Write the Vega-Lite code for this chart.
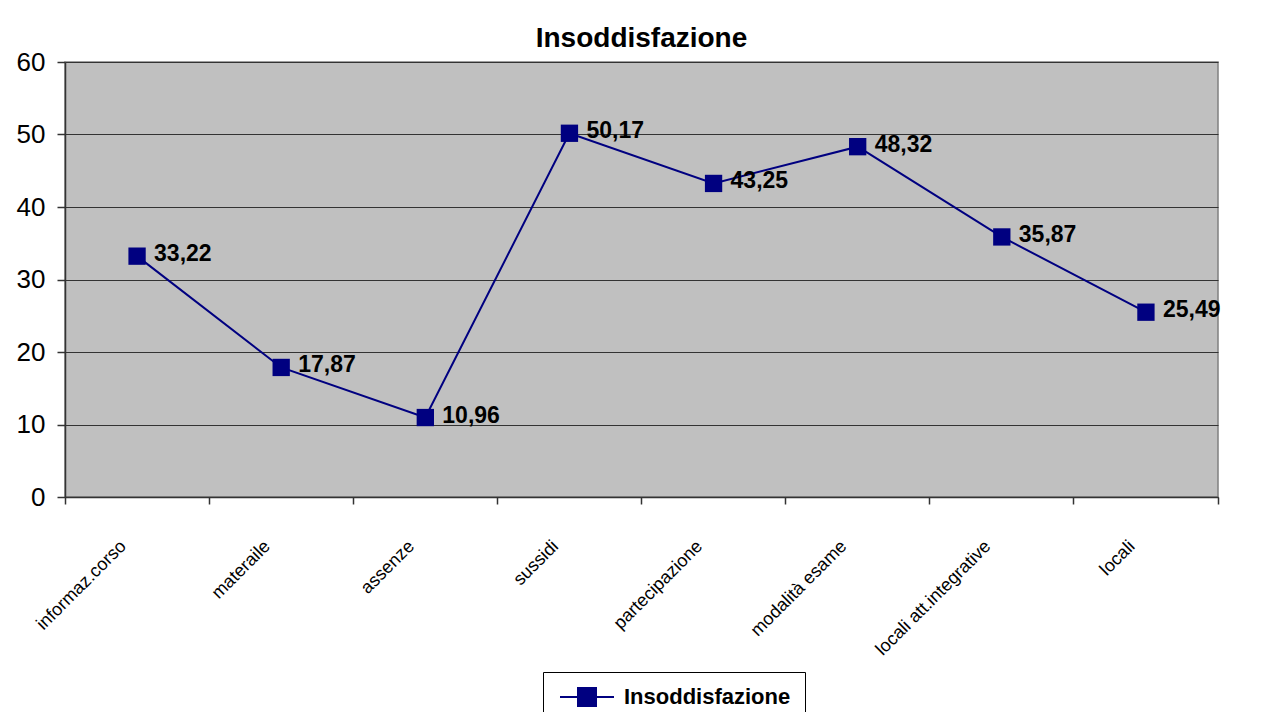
{
  "$schema": "https://vega.github.io/schema/vega-lite/v6.json",
  "autosize": {"type": "none"},
  "padding": {"left": 65, "top": 62, "right": 53, "bottom": 215},
  "width": 1153,
  "height": 435,
  "background": "white",
  "title": {
    "text": "Insoddisfazione",
    "fontSize": 28,
    "fontWeight": "bold",
    "font": "Liberation Sans",
    "color": "black",
    "anchor": "middle",
    "baseline": "bottom",
    "offset": 6,
    "dy": 38
  },
  "config": {
    "font": "Liberation Sans",
    "view": {"fill": "#C0C0C0", "stroke": "#808080", "strokeWidth": 1.5},
    "axis": {"labelColor": "black", "labelFont": "Liberation Sans", "domainColor": "#333333", "tickColor": "#333333", "domainWidth": 1.5, "tickWidth": 1.5}
  },
  "data": {
    "values": [
      {"categoria": "informaz.corso", "valore": 33.22, "etichetta": "33,22", "serie": "Insoddisfazione"},
      {"categoria": "materaile", "valore": 17.87, "etichetta": "17,87", "serie": "Insoddisfazione"},
      {"categoria": "assenze", "valore": 10.96, "etichetta": "10,96", "serie": "Insoddisfazione"},
      {"categoria": "sussidi", "valore": 50.17, "etichetta": "50,17", "serie": "Insoddisfazione"},
      {"categoria": "partecipazione", "valore": 43.25, "etichetta": "43,25", "serie": "Insoddisfazione"},
      {"categoria": "modalità esame", "valore": 48.32, "etichetta": "48,32", "serie": "Insoddisfazione"},
      {"categoria": "locali att.integrative", "valore": 35.87, "etichetta": "35,87", "serie": "Insoddisfazione"},
      {"categoria": "locali", "valore": 25.49, "etichetta": "25,49", "serie": "Insoddisfazione"}
    ]
  },
  "encoding": {
    "x": {
      "field": "categoria",
      "type": "nominal",
      "sort": null,
      "scale": {"type": "band", "paddingInner": 0, "paddingOuter": 0},
      "axis": {
        "title": null,
        "bandPosition": 1,
        "tickExtra": true,
        "tickSize": 7,
        "labelAngle": -45,
        "labelAlign": "right",
        "labelBaseline": "top",
        "labelFontSize": 18,
        "labelPadding": 33,
        "labelOffset": -20,
        "grid": false
      }
    },
    "y": {
      "field": "valore",
      "type": "quantitative",
      "scale": {"domain": [0, 60], "nice": false},
      "axis": {
        "title": null,
        "values": [0, 10, 20, 30, 40, 50, 60],
        "labelFontSize": 26,
        "tickSize": 8,
        "labelPadding": 12,
        "grid": true,
        "gridColor": "#333333",
        "gridWidth": 1.2
      }
    }
  },
  "layer": [
    {
      "mark": {"type": "line", "strokeWidth": 2},
      "encoding": {
        "color": {
          "field": "serie",
          "type": "nominal",
          "scale": {"range": ["#000080"]},
          "legend": {
            "title": null,
            "orient": "none",
            "legendX": 478,
            "legendY": 610,
            "direction": "vertical",
            "symbolType": "M-3,0H3M-1,-1H1V1H-1Z",
            "symbolSize": 324,
            "symbolOffset": 19,
            "symbolStrokeWidth": 2,
            "symbolFillColor": "#000080",
            "symbolStrokeColor": "#000080",
            "labelFontSize": 22,
            "labelFontWeight": "bold",
            "labelColor": "black",
            "labelFont": "Liberation Sans",
            "labelOffset": 26,
            "labelLimit": 400,
            "padding": 14,
            "strokeColor": "black",
            "fillColor": "white"
          }
        }
      }
    },
    {
      "mark": {"type": "point", "shape": "square", "filled": true, "size": 300, "color": "#000080", "opacity": 1}
    },
    {
      "mark": {"type": "text", "align": "left", "baseline": "middle", "dx": 17, "dy": -2, "fontSize": 23, "fontWeight": "bold", "color": "black"},
      "encoding": {"text": {"field": "etichetta"}}
    }
  ]
}
